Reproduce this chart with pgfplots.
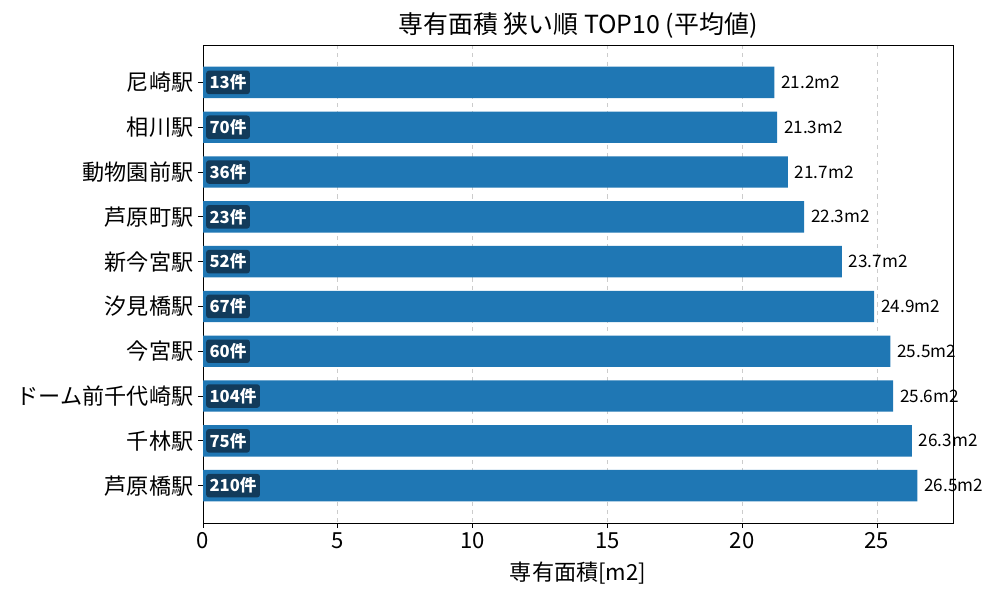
\documentclass[border=0pt]{standalone}
\usepackage{fontspec}
\setmainfont{Noto Sans CJK JP}
\usepackage{pgfplots}
\pgfplotsset{compat=1.18}
\definecolor{barblue}{RGB}{31,119,180}
\definecolor{cntbox}{RGB}{18,59,91}

\begin{document}
\begin{tikzpicture}
\path[use as bounding box] (0,0) rectangle (720bp,432bp);
\begin{axis}[
  at={(146.2bp,55.4bp)}, anchor=south west,
  scale only axis, width=540bp, height=344.2bp,
  xmin=0, xmax=27.825, ymin=-0.835, ymax=9.835,
  y dir=reverse,
  xtick={0,5,10,15,20,25},
  ytick={0,...,9},
  yticklabels={尼崎駅,相川駅,動物園前駅,芦原町駅,新今宮駅,汐見橋駅,今宮駅,ドーム前千代崎駅,千林駅,芦原橋駅},
  tick align=outside, tick pos=left,
  major tick length=3.5bp,
  tick style={black, line width=0.6bp},
  axis line style={line width=0.6bp},
  ticklabel style={font=\fontsize{16}{18}\selectfont},
  /pgf/number format/assume math mode=true,
  xmajorgrids, grid style={dashed, gray!40, line width=0.6bp},
  title={専有面積 狭い順 TOP10 (平均値)},
  title style={font=\fontsize{18}{20}\selectfont, yshift=-5bp},
  xlabel={専有面積[m2]},
  xlabel style={font=\fontsize{16}{18}\selectfont, yshift=-2bp},
  clip=false,
]
\addplot[xbar, bar width=0.7, fill=barblue, draw=none,
  nodes near coords={\pgfmathprintnumber[fixed,fixed zerofill,precision=1]{\pgfplotspointmeta}m2},
  point meta=x,
  every node near coord/.style={anchor=west, xshift=1.5bp, font=\fontsize{12.4}{14}\selectfont, black}]
  coordinates {(21.2,0) (21.3,1) (21.7,2) (22.3,3) (23.7,4) (24.9,5) (25.5,6) (25.6,7) (26.3,8) (26.5,9)};
\addplot[draw=none, mark=none,
  nodes near coords={\pgfplotspointmeta{}件},
  point meta=explicit symbolic,
  every node near coord/.style={anchor=west, xshift=2bp, fill=cntbox, text=white,
    rounded corners=2bp, inner xsep=2.5bp, inner ysep=2.8bp,
    font=\fontsize{12}{14}\bfseries\selectfont}]
  coordinates {(0,0) [13] (0,1) [70] (0,2) [36] (0,3) [23] (0,4) [52] (0,5) [67] (0,6) [60] (0,7) [104] (0,8) [75] (0,9) [210]};
\end{axis}
\end{tikzpicture}
\end{document}
